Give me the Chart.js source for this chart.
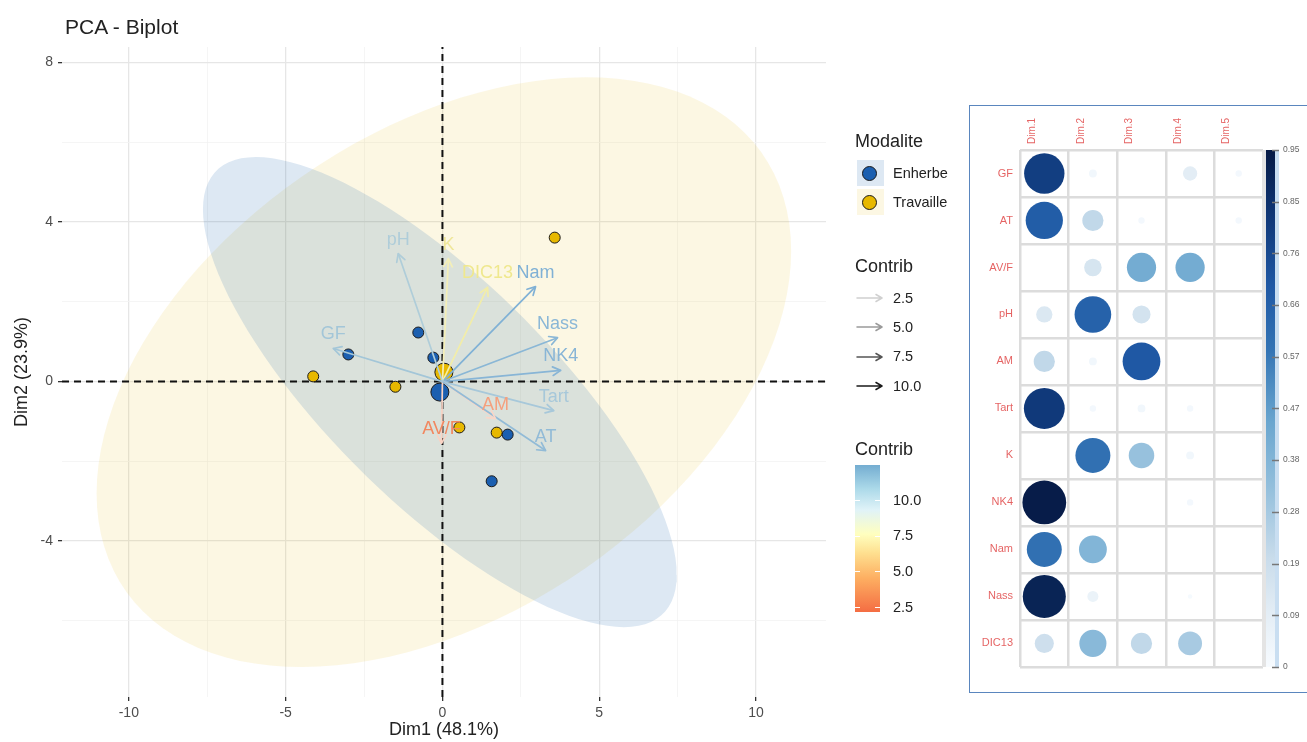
<!DOCTYPE html>
<html lang="fr">
<head>
<meta charset="UTF-8">
<meta name="viewport" content="width=device-width, initial-scale=1.0">
<title>PCA - Biplot</title>
<style>
  html, body { margin: 0; padding: 0; background: #fff; }
  body { font-family: "Liberation Sans", Arial, sans-serif; color: #222; }
  #page { position: relative; width: 1307px; height: 742px; overflow: hidden; }
  #biplot { position: absolute; left: 0; top: 0; }
  #plot-title { position: absolute; left: 65px; top: 15px; font-size: 21px; line-height: 24px; color: #222; }
  .lg { position: absolute; white-space: nowrap; line-height: 1; color: #222; }
  .key { position: absolute; width: 27px; height: 25px; }
  .dot { position: absolute; width: 13px; height: 13px; border-radius: 50%; border: 1px solid #1a1a1a; }
  .tickw { position: absolute; width: 5px; height: 1px; background: #fff; }
  #cb-legend { position: absolute; left: 855px; top: 465px; width: 25px; height: 147px; }
  #corr-box { position: absolute; left: 969px; top: 105px; width: 345px; height: 588px; border: 1.5px solid #5A86BE; box-sizing: border-box; }
  #corrplot { position: absolute; left: 970px; top: 106px; }
</style>
</head>
<body>
<div id="page">
  <canvas id="biplot" width="965" height="742"></canvas>
  <div id="plot-title">PCA - Biplot</div>
  <div id="legend"></div>
  <div id="corr-box"></div>
  <canvas id="corrplot" width="337" height="586"></canvas>
</div>

<script src="https://cdn.jsdelivr.net/npm/chart.js"></script>
<script>
// ---------- biplot data (individuals by group) ----------
const enherbeX = [-0.77, -3.00, -0.29, 2.08, 1.57];
const enherbeY = [1.23, 0.68, 0.60, -1.33, -2.50];
const travailleX = [3.58, -4.12, -1.50, 0.54, 1.73];
const travailleY = [3.61, 0.13, -0.13, -1.15, -1.28];

// variables (arrows)
const varNames = ['GF', 'AT', 'AV/F', 'pH', 'AM', 'Tart', 'K', 'NK4', 'Nam', 'Nass', 'DIC13'];
const varDim1 = [-3.48, 3.29, -0.03, -1.41, 1.69, 3.55, 0.19, 3.77, 2.97, 3.67, 1.44];
const varDim2 = [0.83, -1.73, -1.55, 3.21, -0.93, -0.73, 3.08, 0.28, 2.38, 1.10, 2.36];

// axes
const X_MIN = -12.13, X_MAX = 12.23, Y_MIN = -7.91, Y_MAX = 8.39;
const xMajor = [-10, -5, 0, 5, 10];
const xMinor = [-7.5, -2.5, 2.5, 7.5];
const yMajor = [-4, 0, 4, 8];
const yMinor = [-6, -2, 2, 6];
const contribTicks = [2.5, 5.0, 7.5, 10.0];

// ---------- corrplot data (cos2 per dimension, rows = varNames) ----------
const dimNames = ['Dim.1', 'Dim.2', 'Dim.3', 'Dim.4', 'Dim.5'];
const cos2Dim1 = [0.80, 0.68, 0.00, 0.13, 0.22, 0.82, 0.00, 0.94, 0.60, 0.91, 0.18];
const cos2Dim2 = [0.03, 0.22, 0.15, 0.66, 0.03, 0.02, 0.60, 0.00, 0.38, 0.06, 0.36];
const cos2Dim3 = [0.00, 0.02, 0.42, 0.16, 0.70, 0.03, 0.32, 0.00, 0.00, 0.00, 0.22];
const cos2Dim4 = [0.10, 0.00, 0.42, 0.00, 0.00, 0.02, 0.03, 0.02, 0.00, 0.01, 0.28];
const cos2Dim5 = [0.02, 0.02, 0.00, 0.00, 0.00, 0.00, 0.00, 0.00, 0.00, 0.00, 0.00];
const cbTicks = [0, 0.095, 0.19, 0.285, 0.38, 0.475, 0.57, 0.665, 0.76, 0.855, 0.95];
const cbLabels = ['0', '0.09', '0.19', '0.28', '0.38', '0.47', '0.57', '0.66', '0.76', '0.85', '0.95'];

// ---------- styles ----------
const ENHERBE = '#1B5FB0', TRAVAILLE = '#E7B800';
const varColors = ['#A3C6D8', '#92BBD7', '#F2875F', '#AFCDD9', '#F5A07E', '#A7C8DA',
                   '#EFE79A', '#88B5D6', '#80B1D5', '#8AB7D6', '#EFE88E'];
const varLineColors = ['#A3C6D8', '#92BBD7', '#F9D3C4', '#AFCDD9', '#F9D6C8', '#A7C8DA',
                       '#F4EFB8', '#88B5D6', '#80B1D5', '#8AB7D6', '#F2EDA8'];
const alphaKeyColors = ['#D0D0D0', '#9A9A9A', '#555555', '#1A1A1A'];
const contribStops = [[2.15, '#F46D43'], [4.5, '#FDAE61'], [6.3, '#FEE090'], [7.6, '#FFFFBF'],
                      [9.3, '#E0F3F8'], [10.8, '#ABD9E9'], [12.45, '#74ADD1']];
const bluesStops = [[0, '#F7FBFF'], [0.10, '#E3EDF5'], [0.20, '#C9DCEB'], [0.33, '#93BFDC'],
                    [0.45, '#6AA6CF'], [0.58, '#3475B5'], [0.70, '#1F58A4'], [0.82, '#10397A'], [0.95, '#061A45']];
const CB_MAX = 0.95;
const BUBBLE_R = 22;
const RED = 'rgba(222,60,60,0.8)';
const TICK_GREY = '#4D4D4D';

Chart.defaults.font.family = '"Liberation Sans", Arial, sans-serif';

function hexToRgb(h) { const n = parseInt(h.slice(1), 16); return [n >> 16, (n >> 8) & 255, n & 255]; }
function rampColor(stops, v) {
  if (v <= stops[0][0]) return stops[0][1];
  for (let i = 1; i < stops.length; i++) {
    if (v <= stops[i][0]) {
      const t = (v - stops[i - 1][0]) / (stops[i][0] - stops[i - 1][0]);
      const a = hexToRgb(stops[i - 1][1]), b = hexToRgb(stops[i][1]);
      return 'rgb(' + a.map((x, k) => Math.round(x + (b[k] - x) * t)).join(',') + ')';
    }
  }
  return stops[stops.length - 1][1];
}

// 95% t-ellipse of a group (as stat_ellipse type "t")
function groupEllipse(xs, ys, level) {
  const n = xs.length;
  const mx = xs.reduce((s, v) => s + v, 0) / n;
  const my = ys.reduce((s, v) => s + v, 0) / n;
  let sxx = 0, syy = 0, sxy = 0;
  for (let i = 0; i < n; i++) {
    sxx += (xs[i] - mx) ** 2; syy += (ys[i] - my) ** 2; sxy += (xs[i] - mx) * (ys[i] - my);
  }
  sxx /= n - 1; syy /= n - 1; sxy /= n - 1;
  const d = n - 1;
  const f = (d / 2) * (Math.pow(1 - level, -2 / d) - 1);   // qf(level, 2, n-1)
  const rad = Math.sqrt(2 * f);
  const a = Math.sqrt(sxx), b = sxy / a, c = Math.sqrt(syy - b * b);
  const pts = [];
  for (let k = 0; k <= 120; k++) {
    const t = 2 * Math.PI * k / 120, u = Math.cos(t), v = Math.sin(t);
    pts.push({ x: mx + rad * a * u, y: my + rad * (b * u + c * v) });
  }
  return pts;
}
function groupMean(xs, ys) {
  return { x: xs.reduce((s, v) => s + v, 0) / xs.length, y: ys.reduce((s, v) => s + v, 0) / ys.length };
}
const toPoints = (xs, ys) => xs.map((x, i) => ({ x: x, y: ys[i] }));

// ---------- biplot ----------
const datasets = [
  { data: groupEllipse(travailleX, travailleY, 0.95), showLine: true, fill: 'shape',
    backgroundColor: 'rgba(231,184,0,0.11)', borderWidth: 0, pointRadius: 0, order: 20 },
  { data: groupEllipse(enherbeX, enherbeY, 0.95), showLine: true, fill: 'shape',
    backgroundColor: 'rgba(15,92,168,0.14)', borderWidth: 0, pointRadius: 0, order: 19 },
  { data: [{ x: 0, y: Y_MIN }, { x: 0, y: Y_MAX }], showLine: true, borderColor: '#111',
    borderWidth: 2, borderDash: [7, 5], pointRadius: 0, order: 15 },
  { data: [{ x: X_MIN, y: 0 }, { x: X_MAX, y: 0 }], showLine: true, borderColor: '#111',
    borderWidth: 2, borderDash: [7, 5], pointRadius: 0, order: 15 },
  { data: toPoints(enherbeX, enherbeY), backgroundColor: ENHERBE, borderColor: '#1a1a1a',
    borderWidth: 1, pointRadius: 5.5, order: 10 },
  { data: toPoints(travailleX, travailleY), backgroundColor: TRAVAILLE, borderColor: '#1a1a1a',
    borderWidth: 1, pointRadius: 5.5, order: 10 },
  { data: [groupMean(enherbeX, enherbeY)], backgroundColor: ENHERBE, borderColor: '#1a1a1a',
    borderWidth: 1, pointRadius: 9, order: 9 },
  { data: [groupMean(travailleX, travailleY)], backgroundColor: TRAVAILLE, borderColor: '#1a1a1a',
    borderWidth: 1, pointRadius: 9, order: 9 }
];
varNames.forEach((name, i) => {
  datasets.push({
    data: [{ x: 0, y: 0 }, { x: varDim1[i], y: varDim2[i] }],
    showLine: true, borderColor: varLineColors[i], borderWidth: 1.7, pointRadius: 0,
    order: 5, varIndex: i
  });
});

// arrow heads and variable labels
const arrowHeads = {
  id: 'arrowHeads',
  afterDatasetsDraw(chart) {
    const ctx = chart.ctx;
    const arrows = chart.data.datasets
      .map((ds, di) => ({ ds, pts: chart.getDatasetMeta(di).data }))
      .filter(o => o.ds.varIndex !== undefined);
    ctx.save();
    ctx.lineCap = 'round';
    arrows.forEach(({ ds, pts }) => {
      const a = pts[0], b = pts[1];
      const ang = Math.atan2(b.y - a.y, b.x - a.x);
      ctx.strokeStyle = ds.borderColor;
      ctx.lineWidth = ds.borderWidth;
      ctx.beginPath();
      [-1, 1].forEach(s => {
        ctx.moveTo(b.x, b.y);
        ctx.lineTo(b.x - 9 * Math.cos(ang + s * 0.5), b.y - 9 * Math.sin(ang + s * 0.5));
      });
      ctx.stroke();
    });
    ctx.font = '18px "Liberation Sans", Arial, sans-serif';
    ctx.textAlign = 'center';
    ctx.textBaseline = 'alphabetic';
    arrows.forEach(({ ds, pts }) => {
      ctx.fillStyle = varColors[ds.varIndex];
      ctx.fillText(varNames[ds.varIndex], pts[1].x, pts[1].y - 9);
    });
    ctx.restore();
  }
};

const isIn = (arr, v) => arr.some(m => Math.abs(m - v) < 1e-9);

new Chart(document.getElementById('biplot'), {
  type: 'scatter',
  data: { datasets: datasets },
  options: {
    responsive: false,
    animation: false,
    events: [],
    layout: { padding: { top: 47, right: 139, left: 0, bottom: 0 } },
    plugins: { legend: { display: false }, tooltip: { enabled: false } },
    scales: {
      x: {
        type: 'linear', min: X_MIN, max: X_MAX,
        afterBuildTicks: s => { s.ticks = xMajor.concat(xMinor).sort((a, b) => a - b).map(v => ({ value: v })); },
        ticks: {
          autoSkip: false, maxRotation: 0, padding: 4, color: TICK_GREY, font: { size: 14 },
          callback: v => isIn(xMajor, v) ? String(v) : ''
        },
        grid: {
          color: c => isIn(xMajor, c.tick.value) ? '#E6E6E6' : '#F3F3F3',
          lineWidth: c => isIn(xMajor, c.tick.value) ? 1.3 : 0.8,
          tickColor: c => isIn(xMajor, c.tick.value) ? '#333' : 'rgba(0,0,0,0)',
          tickLength: 4
        },
        border: { display: false },
        title: { display: true, text: 'Dim1 (48.1%)', color: '#222', font: { size: 18 }, padding: { top: 0, bottom: 1 } },
        afterFit: s => { s.height = 45; }
      },
      y: {
        type: 'linear', min: Y_MIN, max: Y_MAX,
        afterBuildTicks: s => { s.ticks = yMajor.concat(yMinor).sort((a, b) => a - b).map(v => ({ value: v })); },
        ticks: {
          autoSkip: false, padding: 5, color: TICK_GREY, font: { size: 14 },
          callback: v => isIn(yMajor, v) ? String(v) : ''
        },
        grid: {
          color: c => isIn(yMajor, c.tick.value) ? '#E6E6E6' : '#F3F3F3',
          lineWidth: c => isIn(yMajor, c.tick.value) ? 1.3 : 0.8,
          tickColor: c => isIn(yMajor, c.tick.value) ? '#333' : 'rgba(0,0,0,0)',
          tickLength: 4
        },
        border: { display: false },
        title: { display: true, text: 'Dim2 (23.9%)', color: '#222', font: { size: 18 }, padding: { top: 11, bottom: 0 } },
        afterFit: s => { s.width = 62; }
      }
    }
  },
  plugins: [arrowHeads]
});

// ---------- biplot legends (html) ----------
const legend = document.getElementById('legend');
function addText(text, left, cy, size) {
  const el = document.createElement('div');
  el.className = 'lg';
  el.textContent = text;
  el.style.left = left + 'px';
  el.style.top = (cy - size * 0.5) + 'px';
  el.style.fontSize = size + 'px';
  legend.appendChild(el);
}
function addBox(cls, left, top, w, h, bg) {
  const el = document.createElement('div');
  el.className = cls;
  Object.assign(el.style, { left: left + 'px', top: top + 'px', background: bg });
  if (w) el.style.width = w + 'px';
  if (h) el.style.height = h + 'px';
  legend.appendChild(el);
  return el;
}

addText('Modalite', 855, 141, 18);
[['Enherbe', ENHERBE, 'rgba(15,92,168,0.14)'], ['Travaille', TRAVAILLE, 'rgba(231,184,0,0.11)']]
  .forEach(([name, col, bg], i) => {
    const cy = 173 + i * 29;
    addBox('key', 857, cy - 13, 27, 26, bg);
    addBox('dot', 862, cy - 7.5, 0, 0, col);
    addText(name, 893, cy, 14.5);
  });

addText('Contrib', 855, 266, 18);
contribTicks.forEach((v, i) => {
  const cy = 298 + i * 29.3;
  const svg = document.createElementNS('http://www.w3.org/2000/svg', 'svg');
  svg.setAttribute('width', '28'); svg.setAttribute('height', '12');
  Object.assign(svg.style, { position: 'absolute', left: '856px', top: (cy - 6) + 'px' });
  svg.innerHTML = '<path d="M1 6 L26 6 M26 6 L20 2.5 M26 6 L20 9.5" fill="none" stroke="' +
    alphaKeyColors[i] + '" stroke-width="1.5" stroke-linecap="round"/>';
  legend.appendChild(svg);
  addText(v.toFixed(1), 893, cy, 14.5);
});

addText('Contrib', 855, 449, 18);
const cbMin = contribStops[0][0], cbMax = contribStops[contribStops.length - 1][0];
const cbEl = document.createElement('div');
cbEl.id = 'cb-legend';
cbEl.style.background = 'linear-gradient(to top, ' + contribStops.map(([v, c]) =>
  c + ' ' + ((v - cbMin) / (cbMax - cbMin) * 100).toFixed(1) + '%').join(', ') + ')';
legend.appendChild(cbEl);
contribTicks.forEach(v => {
  const cy = 465 + (cbMax - v) / (cbMax - cbMin) * 147;
  addBox('tickw', 855, cy, 0, 0, '#fff');
  addBox('tickw', 875, cy, 0, 0, '#fff');
  addText(v.toFixed(1), 893, cy, 14.5);
});

// ---------- corrplot of cos2 ----------
const cos2ByDim = [cos2Dim1, cos2Dim2, cos2Dim3, cos2Dim4, cos2Dim5];
const cells = [];
varNames.forEach((name, i) => {
  dimNames.forEach((dim, j) => {
    const v = cos2ByDim[j][i];
    cells.push({ x: dim, y: name, v: v, r: BUBBLE_R * Math.sqrt(v / CB_MAX) });
  });
});

const corrColorbar = {
  id: 'corrColorbar',
  afterDraw(chart) {
    const s = chart.scales.cb, ctx = chart.ctx;
    const y0 = s.getPixelForValue(0), y1 = s.getPixelForValue(CB_MAX);
    ctx.save();
    ctx.fillStyle = '#E4E4E4';
    ctx.fillRect(s.left - 1, y1, 4, y0 - y1);
    ctx.fillStyle = '#C9DEF1';
    ctx.fillRect(s.left + 12, y1, 4, y0 - y1);
    const g = ctx.createLinearGradient(0, y0, 0, y1);
    bluesStops.forEach(([v, c]) => g.addColorStop(v / CB_MAX, c));
    ctx.fillStyle = g;
    ctx.fillRect(s.left + 3, y1, 9, y0 - y1);
    ctx.strokeStyle = '#777';
    ctx.lineWidth = 1.5;
    cbTicks.forEach(v => {
      const y = Math.round(s.getPixelForValue(v)) + 0.5;
      ctx.beginPath();
      ctx.moveTo(s.left + 9, y);
      ctx.lineTo(s.left + 16, y);
      ctx.stroke();
    });
    ctx.restore();
  }
};

new Chart(document.getElementById('corrplot'), {
  type: 'bubble',
  data: {
    datasets: [{
      data: cells,
      backgroundColor: c => (c.raw && c.raw.v > 0) ? rampColor(bluesStops, c.raw.v) : 'rgba(0,0,0,0)',
      borderWidth: 0
    }]
  },
  options: {
    responsive: false,
    animation: false,
    events: [],
    layout: { padding: { top: 0, left: 0, right: 0, bottom: 6 } },
    plugins: { legend: { display: false }, tooltip: { enabled: false } },
    scales: {
      x: {
        type: 'category', labels: dimNames, position: 'top', offset: true,
        grid: { offset: true, color: '#DCDCDC', lineWidth: 2.5, drawTicks: false },
        border: { display: false },
        ticks: { color: RED, font: { size: 10 }, minRotation: 90, maxRotation: 90, padding: 6, autoSkip: false },
        afterFit: s => { s.height = 44; }
      },
      y: {
        type: 'category', labels: varNames, position: 'left', offset: true,
        grid: { offset: true, color: '#DCDCDC', lineWidth: 2.5, drawTicks: false },
        border: { display: false },
        ticks: { color: RED, font: { size: 11 }, padding: 7, autoSkip: false },
        afterFit: s => { s.width = 50; }
      },
      cb: {
        type: 'linear', position: 'right', min: 0, max: CB_MAX,
        grid: { display: false, drawTicks: false },
        border: { display: false },
        afterBuildTicks: s => { s.ticks = cbTicks.map(v => ({ value: v })); },
        ticks: { callback: (v, i) => cbLabels[i], color: '#666', font: { size: 8.5 }, padding: 20, autoSkip: false },
        afterFit: s => { s.width = 44; }
      }
    }
  },
  plugins: [corrColorbar]
});
</script>
</body>
</html>
